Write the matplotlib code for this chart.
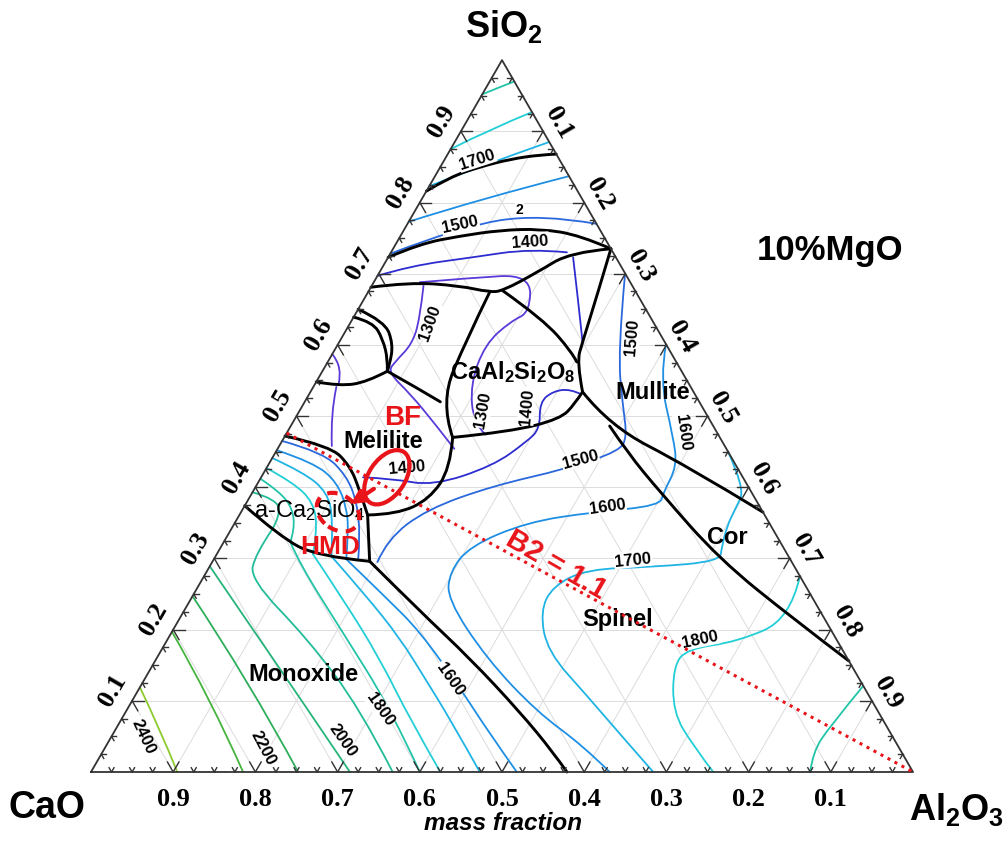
import numpy as np
import matplotlib
matplotlib.use("Agg")
import matplotlib.pyplot as plt
from matplotlib.patches import Ellipse, FancyArrowPatch, PathPatch
from matplotlib.path import Path

plt.rcParams["font.family"] = ["Liberation Sans", "DejaVu Sans"]
plt.rcParams["mathtext.default"] = "regular"

H = np.sqrt(3) / 2

# ---- all compositions are (Al2O3, SiO2) mass fractions, CaO = 1 - Al2O3 - SiO2 ----

# liquidus field boundaries (black)
two_liquid = [(0, .816), (.019, .836), (.048, .850), (.080, .861), (.113, .867), (.132, .868)]
silica_upper = [(0, .723), (.029, .742), (.073, .753), (.117, .761), (.165, .763), (.218, .754), (.265, .735)]
silica_lower = [(0, .681), (.044, .688), (.107, .683), (.148, .674), (.163, .676), (.192, .702),
                (.218, .730), (.265, .735)]
mullite_left = [(.265, .735), (.281, .669), (.296, .604), (.303, .576), (.331, .534)]
anorthite_top = [(.163, .676), (.232, .636), (.290, .590), (.303, .576)]
anorthite_left = [(.148, .674), (.153, .608), (.165, .520), (.205, .470)]
anorthite_bottom = [(.205, .470), (.271, .478), (.323, .496), (.330, .517), (.331, .534)]
mullite_cor = [(.331, .534), (.388, .486), (.510, .430), (.635, .365)]
spinel_cor = [(.388, .486), (.428, .449), (.496, .393), (.615, .299), (.747, .215), (.844, .156)]
monoxide_spinel = [(.191, .296), (.287, .226), (.382, .159), (.480, .084), (.548, .028), (.579, 0)]
c2s_right = [(.156, .361), (.191, .296)]
c2s_top = [(0, .472), (.062, .458), (.100, .430), (.128, .397), (.156, .361)]
c2s_bottom = [(0, .374), (.064, .331), (.123, .303), (.191, .296)]
melilite_bottom = [(.156, .361), (.191, .362), (.220, .383), (.224, .426), (.205, .470)]
melilite_top = [(.079, .563), (.124, .541), (.165, .520)]
wollastonite = [(.079, .563), (.062, .548), (.032, .542), (0, .548)]
pseudowo_a = [(0, .639), (.027, .632), (.051, .608), (.071, .580), (.079, .563)]
pseudowo_b = [(0, .650), (.041, .633), (.067, .601), (.077, .573), (.079, .563)]

boundaries = [two_liquid, silica_upper, silica_lower, mullite_left, anorthite_top, anorthite_left,
              anorthite_bottom, mullite_cor, spinel_cor, monoxide_spinel, c2s_right, c2s_top,
              c2s_bottom, melilite_bottom, melilite_top, wollastonite, pseudowo_a, pseudowo_b]

# liquidus isotherms (deg C)
iso_1300 = [
    [(.056, .688), (.114, .694), (.185, .699), (.211, .646), (.194, .633), (.179, .601),
     (.189, .545), (.221, .489), (.243, .474)],
    [(.063, .683), (.082, .636), (.090, .601), (.082, .577), (.080, .562), (.123, .531),
     (.174, .489), (.215, .454)],
    [(0, .587), (.022, .569), (.029, .544)],
    [(.028, .541), (.040, .503), (.064, .458)],
]
iso_1400 = [
    [(0, .697), (.033, .711), (.103, .723), (.167, .735), (.214, .730)],
    [(.225, .723), (.252, .678), (.277, .636), (.296, .604)],
    [(.124, .414), (.161, .412), (.215, .402), (.274, .430), (.298, .464), (.305, .482),
     (.286, .520), (.295, .535), (.314, .538), (.330, .531)],
]
iso_1500 = [
    [(0, .728), (.066, .766), (.154, .784), (.230, .770)],
    [(.301, .697), (.346, .590), (.390, .514), (.416, .472), (.418, .451), (.366, .426),
     (.288, .402), (.224, .369), (.197, .327), (.201, .295)],
    [(0, .465), (.058, .449), (.103, .416), (.134, .379), (.162, .331), (.176, .298)],
]
iso_1600 = [
    [(0, .773), (.071, .805), (.163, .837)],
    [(.399, .601), (.416, .552), (.472, .472), (.498, .430), (.500, .393), (.505, .374),
     (.428, .365), (.355, .351), (.302, .317), (.296, .281), (.312, .243), (.402, .159),
     (.501, .084), (.580, .037), (.631, 0)],
    [(0, .452), (.053, .435), (.096, .407), (.127, .369), (.146, .334), (.161, .299)],
    [(.161, .299), (.235, .246), (.302, .197), (.391, .117), (.459, .053), (.518, 0)],
]
iso_1700 = [
    [(0, .823), (.048, .851), (.115, .885)],
    [(.549, .451), (.597, .398), (.599, .369), (.601, .346), (.609, .317), (.617, .296),
     (.540, .288), (.461, .285), (.431, .261), (.434, .225), (.471, .169), (.550, .107),
     (.631, .042), (.684, 0)],
    [(0, .441), (.048, .421), (.091, .393), (.117, .355), (.141, .303)],
    [(.141, .303), (.208, .250), (.283, .187), (.341, .131), (.400, .074), (.473, 0)],
]
iso_1800 = [
    [(0, .875), (.034, .903), (.073, .927)],
    [(.725, .275), (.743, .215), (.695, .183), (.639, .173), (.634, .149), (.666, .084),
     (.714, .037), (.757, 0)],
    [(0, .427), (.042, .407), (.081, .379), (.105, .341), (.117, .306)],
    [(.117, .306), (.185, .243), (.272, .159), (.351, .074), (.425, 0)],
]
iso_1900 = [
    [(0, .952), (.016, .962), (.030, .970)],
    [(.879, .121), (.867, .065), (.864, .028), (.875, 0)],
    [(0, .412), (.034, .393), (.061, .369), (.077, .341), (.081, .323)],
    [(.081, .323), (.108, .292), (.203, .201), (.320, .089), (.400, 0)],
]
iso_2000 = [
    [(0, .393), (.035, .383), (.050, .360), (.050, .341)],
    [(.050, .341), (.047, .306), (.058, .271), (.170, .187), (.283, .089), (.367, 0)],
]
iso_2100 = [[(0, .289), (.085, .211), (.188, .117), (.315, 0)]]
iso_2200 = [[(0, .247), (.125, .131), (.252, 0)]]
iso_2300 = [[(0, .197), (.094, .103), (.185, 0)]]
iso_2400 = [[(0, .119), (.054, .060), (.105, 0)]]

isotherms = {1300: iso_1300, 1400: iso_1400, 1500: iso_1500, 1600: iso_1600, 1700: iso_1700,
             1800: iso_1800, 1900: iso_1900, 2000: iso_2000, 2100: iso_2100, 2200: iso_2200,
             2300: iso_2300, 2400: iso_2400}
iso_colors = {1300: "#5a3ad8", 1400: "#2c2cd0", 1500: "#2a68dc", 1600: "#1f8fe4",
              1700: "#1fb4e4", 1800: "#22cfd6", 1900: "#22c4a8", 2000: "#22bc98",
              2100: "#26b47a", 2200: "#2eae5a", 2300: "#45b43e", 2400: "#8ccb2e"}

# isotherm labels: text, Al2O3, SiO2, rotation
iso_labels = [("1700", .039, .861, 18), ("2", .126, .791, 0), ("1500", .064, .770, 12),
              ("1400", .161, .746, 4), ("1300", .096, .632, 70), ("1300", .222, .510, 80),
              ("1400", .273, .514, 85), ("1400", .170, .428, 5), ("1500", .352, .612, 85),
              ("1600", .481, .478, -82), ("1500", .375, .440, 15), ("1600", .441, .374, 8),
              ("1700", .510, .299, 6), ("1800", .648, .187, 12), ("1600", .371, .131, -55),
              ("1800", .307, .089, -55), ("2000", .283, .046, -55), ("2200", .192, .035, -62),
              ("2400", .038, .051, -65)]

# primary phase field names: text, Al2O3, SiO2, weight
fields = [("CaAl$_2$Si$_2$O$_8$", .232, .563, "bold"), ("Mullite", .416, .534, "bold"),
          ("Melilite", .122, .466, "bold"), ("a-Ca$_2$SiO$_4$", .082, .368, "normal"),
          ("Monoxide", .190, .138, "bold"), ("Spinel", .533, .215, "bold"),
          ("Cor", .608, .331, "bold")]

# slag basicity line and plant points
b2_ratio = 1.1
bf_center = (.153, .414)
hmd_center = (.118, .365)


def xy(pts):
    p = np.asarray(pts, float)
    return p[:, 0] + p[:, 1] / 2, p[:, 1] * H


def pt(al, si):
    return al + si / 2, si * H


def curve(ax, pts, **kw):
    # smooth quadratic path using the read points as control points
    P = np.column_stack(xy(pts))
    verts, codes = [P[0]], [Path.MOVETO]
    if len(P) == 2:
        verts.append(P[1])
        codes.append(Path.LINETO)
    for i in range(1, len(P) - 1):
        end = P[-1] if i == len(P) - 2 else (P[i] + P[i + 1]) / 2
        verts += [P[i], end]
        codes += [Path.CURVE3, Path.CURVE3]
    ax.add_patch(PathPatch(Path(verts, codes), fill=False, capstyle="round",
                           joinstyle="round", **kw))


fig = plt.figure(figsize=(10.04, 8.45), dpi=100)
ax = fig.add_axes([0, 0, 1, 1])
ax.set_xlim(-0.1107, 1.1107)
ax.set_ylim(-0.0876, 0.9404)
ax.axis("off")

# grid
for k in np.arange(0.1, 0.95, 0.1):
    for seg in ([(0, k), (1 - k, k)], [(k, 0), (k, 1 - k)], [(1 - k, 0), (0, 1 - k)]):
        ax.plot(*xy(seg), color="#dcdcdc", lw=0.7, zorder=1)

# outline
ax.plot(*xy([(0, 0), (1, 0), (0, 1), (0, 0)]), color="#333333", lw=1.3, zorder=6)

# ticks and tick labels
tick_dirs = {"bottom": (60, 120), "left": (0, -60), "right": (180, 240)}
for i in range(1, 40):
    k = i * 0.025
    major = i % 4 == 0
    ln = 0.014 if major else 0.006
    for edge, (al, si) in (("bottom", (1 - k, 0)), ("left", (0, k)), ("right", (k, 1 - k))):
        x0, y0 = pt(al, si)
        for ang in tick_dirs[edge]:
            t = np.radians(ang)
            ax.plot([x0, x0 + ln * np.cos(t)], [y0, y0 + ln * np.sin(t)],
                    color="#333333", lw=1.0, zorder=6)
        if major:
            lab = "%.1f" % k
            if edge == "bottom":
                ax.text(x0, y0 - 0.032, lab, ha="center", va="center", rotation=0)
            elif edge == "left":
                ax.text(x0 - 0.866 * 0.027, y0 + 0.5 * 0.027, lab, ha="center", va="center",
                        rotation=60)
            else:
                ax.text(x0 + 0.866 * 0.022, y0 + 0.5 * 0.022, lab, ha="center", va="center",
                        rotation=-60)
for t in ax.texts:
    t.set_family(["Liberation Serif", "DejaVu Serif"])
    t.set_fontweight("bold")
    t.set_fontsize(19)

# isotherms
for temp, curves in isotherms.items():
    for c in curves:
        curve(ax, c, ec=iso_colors[temp], lw=1.3, zorder=2)

# field boundaries
for b in boundaries:
    curve(ax, b, ec="black", lw=2.1, zorder=3)

for txt, al, si, rot in iso_labels:
    x, y = pt(al, si)
    ax.text(x, y, txt, fontsize=12 if len(txt) > 1 else 10, fontweight="bold",
            rotation=rot, ha="center", va="center", zorder=4,
            bbox=dict(boxstyle="square,pad=0.05", fc="white", ec="none"))

for txt, al, si, w in fields:
    x, y = pt(al, si)
    ax.text(x, y, txt, fontsize=17, fontweight=w, ha="center", va="center", zorder=5)

# B2 = 1.1 line: CaO/SiO2 = 1.1 from the CaO-SiO2 side to the Al2O3 corner
si0 = 1 / (1 + b2_ratio)
ax.plot(*xy([(0, si0), (1, 0)]), color="#e8141a", lw=2.2, ls=(0, (1, 1.6)), zorder=7)
x, y = pt(.420, .292)
ax.text(x, y, "B2 = 1.1", color="#e8141a", fontsize=21, fontweight="bold", rotation=-30,
        ha="center", va="center", zorder=7)

# BF and HMD marks
ax.add_patch(Ellipse(pt(*bf_center), width=0.074, height=0.044, angle=56, fill=False,
                     ec="#e8141a", lw=3, zorder=8))
ax.add_patch(Ellipse(pt(*hmd_center), width=0.056, height=0.042, angle=-35, fill=False,
                     ec="#e8141a", lw=3, ls=(0, (2.5, 2)), zorder=8))
ax.add_patch(FancyArrowPatch(pt(.147, .400), pt(.126, .374), arrowstyle="-|>",
                             mutation_scale=20, color="#e8141a", lw=3, zorder=8))
x, y = pt(.129, .499)
ax.text(x, y, "BF", color="#e8141a", fontsize=20, fontweight="bold", ha="center",
        va="center", zorder=8)
x, y = pt(.132, .317)
ax.text(x, y, "HMD", color="#e8141a", fontsize=19, fontweight="bold", ha="center",
        va="center", zorder=8)

# corner names and titles
fig.text(0.502, 0.969, "SiO$_2$", fontsize=26, fontweight="bold", ha="center", va="center")
fig.text(0.047, 0.044, "CaO", fontsize=27, fontweight="bold", ha="center", va="center")
fig.text(0.953, 0.042, "Al$_2$O$_3$", fontsize=26, fontweight="bold", ha="center", va="center")
fig.text(0.827, 0.703, "10%MgO", fontsize=25, fontweight="bold", ha="center", va="center")
fig.text(0.501, 0.025, "mass fraction", fontsize=17.5, fontweight="bold", style="italic",
         ha="center", va="center")

fig.savefig("out.png", dpi=100, facecolor="white")
